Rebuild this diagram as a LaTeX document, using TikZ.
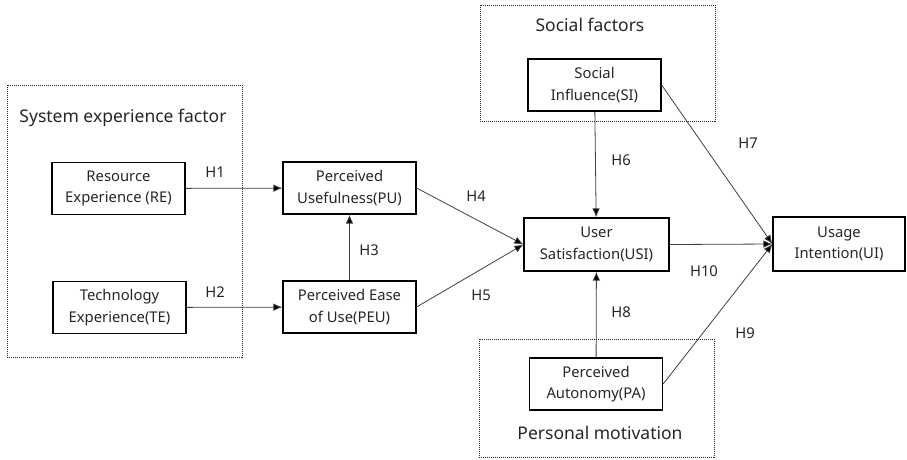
\documentclass[tikz,border=0pt]{standalone}
\usepackage{fontspec}
\setmainfont{Noto Sans}
\usetikzlibrary{arrows.meta}
\begin{document}
\begin{tikzpicture}[x=1pt,y=-1pt,
  box/.style={draw=black,line width=1.2pt,minimum width=133pt,minimum height=52pt,align=center,font=\fontsize{14.8}{21.5}\selectfont,text=black!85,inner sep=1pt},
  group/.style={draw=black!85,dash pattern=on 1pt off 1pt,line width=1pt},
  grouplabel/.style={font=\fontsize{17.5}{20}\selectfont,text=black!85},
  hlab/.style={font=\fontsize{14.8}{16}\selectfont,text=black!85},
  conn/.style={draw=black!75,line width=0.8pt,-{Latex[length=9pt,width=7.5pt,fill=black]}}]
\useasboundingbox (0,0) rectangle (907,459);
% groups
\draw[group] (7,85) rectangle (242,357);
\node[grouplabel] (gsys) at (123,118) {System experience factor};
\draw[group] (480,5) rectangle (715,121);
\node[grouplabel] (gsoc) at (590,25) {Social factors};
\draw[group] (479,339) rectangle (714,457);
\node[grouplabel] (gper) at (600,433) {Personal motivation};
% boxes
\node[box] (RE) at (118.5,188.5) {Resource\\Experience (RE)};
\node[box] (TE) at (119.5,307.5) {Technology\\Experience(TE)};
\node[box] (PU) at (349.5,188) {Perceived\\Usefulness(PU)};
\node[box] (PEU) at (349.5,307) {Perceived Ease\\of Use(PEU)};
\node[box,minimum width=145pt,minimum height=53pt] (USI) at (596.5,244.5) {User\\Satisfaction(USI)};
\node[box] (SI) at (594.5,85) {Social\\Influence(SI)};
\node[box] (PA) at (596,384) {Perceived\\Autonomy(PA)};
\node[box,minimum width=132pt,minimum height=54pt] (UI) at (839,244) {Usage\\Intention(UI)};
% connectors
\draw[conn] (RE) -- (PU);
\draw[conn] (TE) -- (PEU);
\draw[conn] (PEU) -- (PU);
\draw[conn] (PU.east) -- (USI.west);
\draw[conn] (PEU.east) -- (USI.west);
\draw[conn] (SI) -- (USI);
\draw[conn] (PA) -- (USI);
\draw[conn] (SI.east) -- (UI.west);
\draw[conn] (PA.east) -- (UI.west);
\draw[conn] (USI.east) -- (UI.west);
% labels
\node[hlab] (h1) at (215,172) {H1};
\node[hlab] (h2) at (215,292) {H2};
\node[hlab] (h3) at (369,250) {H3};
\node[hlab] (h4) at (476,196) {H4};
\node[hlab] (h5) at (481,295) {H5};
\node[hlab] (h6) at (621,160) {H6};
\node[hlab] (h7) at (748,143) {H7};
\node[hlab] (h8) at (621,312) {H8};
\node[hlab] (h9) at (745,333) {H9};
\node[hlab] (h10) at (704,271) {H10};
\end{tikzpicture}
\end{document}
